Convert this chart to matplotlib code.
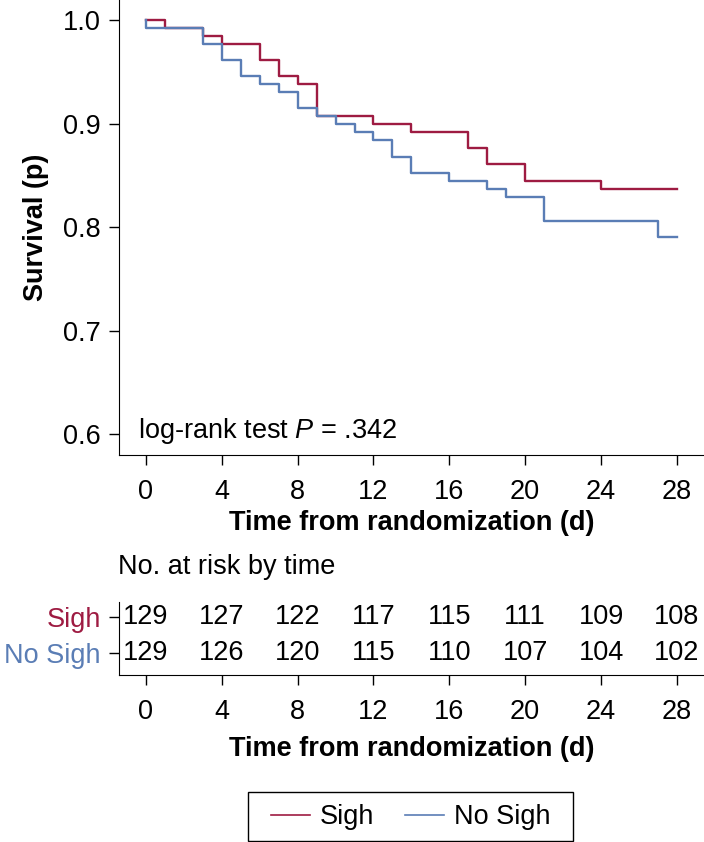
import numpy as np
import matplotlib.pyplot as plt
from matplotlib.patches import Rectangle

plt.rcParams['font.family'] = ['Liberation Sans', 'DejaVu Sans']
plt.rcParams['mathtext.fontset'] = 'custom'
plt.rcParams['mathtext.rm'] = 'Liberation Sans'
plt.rcParams['mathtext.it'] = 'Liberation Sans:italic'

# Kaplan-Meier step data
sigh_t = [0, 1, 3, 4, 6, 7, 8, 9, 12, 14, 17, 18, 20, 24, 28]
sigh_s = [1.0, 0.9922, 0.9845, 0.9767, 0.9612, 0.9457, 0.9380, 0.9070,
          0.8992, 0.8915, 0.8760, 0.8605, 0.8450, 0.8372, 0.8372]
nosigh_t = [0, 0, 3, 4, 5, 6, 7, 8, 9, 10, 11, 12, 13, 14, 16, 18, 19, 21, 27, 28]
nosigh_s = [1.0, 0.9922, 0.9767, 0.9612, 0.9457, 0.9380, 0.9302, 0.9147, 0.9070,
            0.8992, 0.8915, 0.8837, 0.8682, 0.8527, 0.8450, 0.8372, 0.8295,
            0.8062, 0.7907, 0.7907]

risk_times = [0, 4, 8, 12, 16, 20, 24, 28]
risk_sigh = [129, 127, 122, 117, 115, 111, 109, 108]
risk_nosigh = [129, 126, 120, 115, 110, 107, 104, 102]
groups = ["Sigh", "No Sigh"]

red = "#9E1B42"
blue = "#5A7DB5"
fs = 19.5

fig = plt.figure(figsize=(7.04, 8.42), dpi=100)
W, H = 704, 842

xlim = (-1.42, 29.43)
left = 119 / W
width = (704 - 119) / W

# main survival plot
ax = fig.add_axes([left, 1 - 455 / H, width, 455 / H])
ax.step(sigh_t, sigh_s, where='post', color=red, lw=1.7, label=groups[0])
ax.step(nosigh_t, nosigh_s, where='post', color=blue, lw=1.7, label=groups[1])
ax.set_xlim(xlim)
ax.set_ylim(0.58, 1.0193)
ax.set_xticks(risk_times)
ax.set_yticks([0.6, 0.7, 0.8, 0.9, 1.0])
ax.set_yticklabels(["0.6", "0.7", "0.8", "0.9", "1.0"])
for s in ['top', 'right']:
    ax.spines[s].set_visible(False)
ax.tick_params(direction='out', length=7, width=1, labelsize=fs)
ax.tick_params(axis='x', pad=10)
ax.tick_params(axis='y', pad=6)
ax.set_xlabel("Time from randomization (d)", fontsize=fs, fontweight='bold', labelpad=4)
ax.set_ylabel("Survival (p)", fontsize=fs, fontweight='bold')
ax.yaxis.set_label_coords(-0.12, 0.5)
ax.text(0.033, 0.053, "log-rank test $\\it{P}$ = .342", transform=ax.transAxes,
        fontsize=fs, va='center', ha='left')

# number at risk table
tb = fig.add_axes([left, 1 - 675 / H, width, 73 / H])
tb.set_xlim(xlim)
tb.set_ylim(-0.609, 1.415)
for t, a, b in zip(risk_times, risk_sigh, risk_nosigh):
    tb.text(t, 1, str(a), ha='center', va='center', fontsize=fs)
    tb.text(t, 0, str(b), ha='center', va='center', fontsize=fs)
tb.set_xticks(risk_times)
tb.set_yticks([1, 0])
tb.set_yticklabels(groups)
for lab, c in zip(tb.get_yticklabels(), [red, blue]):
    lab.set_color(c)
for s in ['top', 'right']:
    tb.spines[s].set_visible(False)
tb.tick_params(direction='out', length=7, width=1, labelsize=fs)
tb.tick_params(axis='x', pad=10)
tb.tick_params(axis='y', pad=6)
tb.set_xlabel("Time from randomization (d)", fontsize=fs, fontweight='bold', labelpad=8)
fig.text(118 / W, 1 - 567 / H, "No. at risk by time", fontsize=fs, ha='left', va='center')

# legend with a plain box around it
handles, labels = ax.get_legend_handles_labels()
leg = fig.legend(handles, labels, loc='center', bbox_to_anchor=(410.5 / W, 1 - 817 / H),
                 ncol=2, fontsize=fs, frameon=False,
                 handlelength=1.45, columnspacing=1.15, borderpad=0.2, handletextpad=0.35)
for h in leg.get_lines():
    h.set_linewidth(1.2)
fig.patches.append(Rectangle((248 / W, 1 - 841 / H), 325 / W, 49 / H,
                             transform=fig.transFigure, fill=False,
                             edgecolor='black', linewidth=1.0))

fig.savefig("out.png", dpi=100)
